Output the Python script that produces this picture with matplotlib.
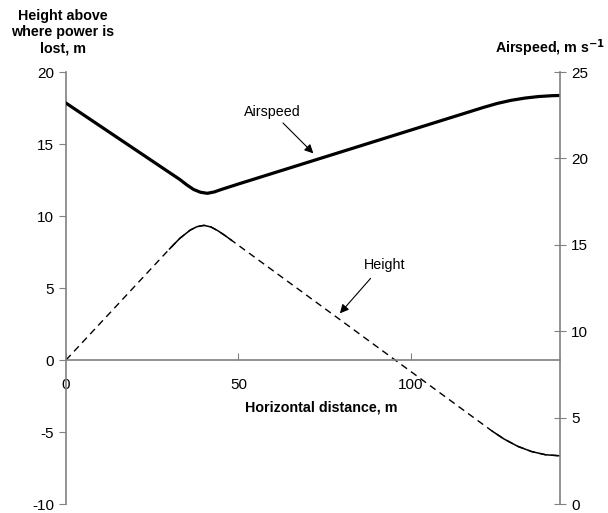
import matplotlib.pyplot as plt
import numpy as np

# horizontal distance (m) and the two series
height_x = np.array([0, 30, 33, 36, 38, 40, 42, 44, 46, 48, 95.4, 123.6, 127, 131, 135, 139, 143])
height_y = np.array([0, 7.71, 8.45, 9.02, 9.26, 9.35, 9.24, 8.98, 8.66, 8.31, 0, -4.95, -5.49, -6.0, -6.36, -6.58, -6.65])

speed_x = np.array([0, 30, 33, 35, 37, 39, 41, 43, 45, 50, 121, 125, 129, 133, 137, 141, 143])
speed_y = np.array([23.2, 19.18, 18.78, 18.47, 18.2, 18.04, 17.98, 18.06, 18.2, 18.52, 22.95, 23.18, 23.36, 23.49, 23.58, 23.63, 23.64])

x_ticks = [0, 50, 100]
left_ticks = [-10, -5, 0, 5, 10, 15, 20]
right_ticks = [0, 5, 10, 15, 20, 25]

plt.rcParams['font.family'] = ['Liberation Sans', 'DejaVu Sans']
plt.rcParams['axes.unicode_minus'] = False
grey = '#808080'

fig = plt.figure(figsize=(6.08, 5.13), dpi=100)
ax = fig.add_axes([66 / 608, 9 / 513, 494 / 608, 432 / 513])
ax2 = ax.twinx()

# height: straight parts dashed, bends solid (like the original)
ax.plot(height_x, height_y, color='black', lw=1.0, dashes=(5, 3.5))
bend1 = (height_x >= 30) & (height_x <= 48)
bend2 = height_x >= 123.6
ax.plot(height_x[bend1], height_y[bend1], color='black', lw=1.1)
ax.plot(height_x[bend2], height_y[bend2], color='black', lw=1.1)

ax2.plot(speed_x, speed_y, color='black', lw=2.3)

ax.set_xlim(0, 143.2)
ax.set_ylim(-10, 20)
ax2.set_ylim(0, 25)

ax.spines['top'].set_visible(False)
ax.spines['right'].set_visible(False)
ax.spines['bottom'].set_position(('data', 0))
ax2.spines['top'].set_visible(False)
ax2.spines['left'].set_visible(False)
ax2.spines['bottom'].set_visible(False)
for sp in [ax.spines['left'], ax.spines['bottom'], ax2.spines['right']]:
    sp.set_color(grey)
    sp.set_linewidth(1.2)

ax.set_xticks(x_ticks)
ax.set_yticks(left_ticks)
ax2.set_yticks(right_ticks)
ax.tick_params(axis='x', direction='in', length=5, color=grey, labelsize=11, pad=13)
ax.tick_params(axis='y', direction='out', length=5, color=grey, labelsize=11)
ax2.tick_params(axis='y', direction='inout', length=9, color=grey, labelsize=11)

fig.text(63 / 608, 1 - 32 / 513, 'Height above\nwhere power is\nlost, m', ha='center', va='center',
         fontsize=10.3, fontweight='bold', linespacing=1.2)
fig.text(605 / 608, 1 - 48 / 513, 'Airspeed, m s$^{\\mathbf{-1}}$', ha='right', va='center',
         fontsize=10.3, fontweight='bold')
ax.text(74, -3.3, 'Horizontal distance, m', ha='center', va='center', fontsize=10.3, fontweight='bold')

arrow = dict(arrowstyle='-|>', color='black', lw=0.8, mutation_scale=13, shrinkA=0, shrinkB=0)
ax.text(59.7, 17.2, 'Airspeed', ha='center', va='center', fontsize=10.3)
ax.annotate('', xy=(71.7, 14.35), xytext=(62.9, 16.46), arrowprops=arrow)
ax.text(92.5, 6.6, 'Height', ha='center', va='center', fontsize=10.3)
ax.annotate('', xy=(79.4, 3.24), xytext=(88.3, 5.67), arrowprops=arrow)

fig.savefig('out.png', dpi=100)
